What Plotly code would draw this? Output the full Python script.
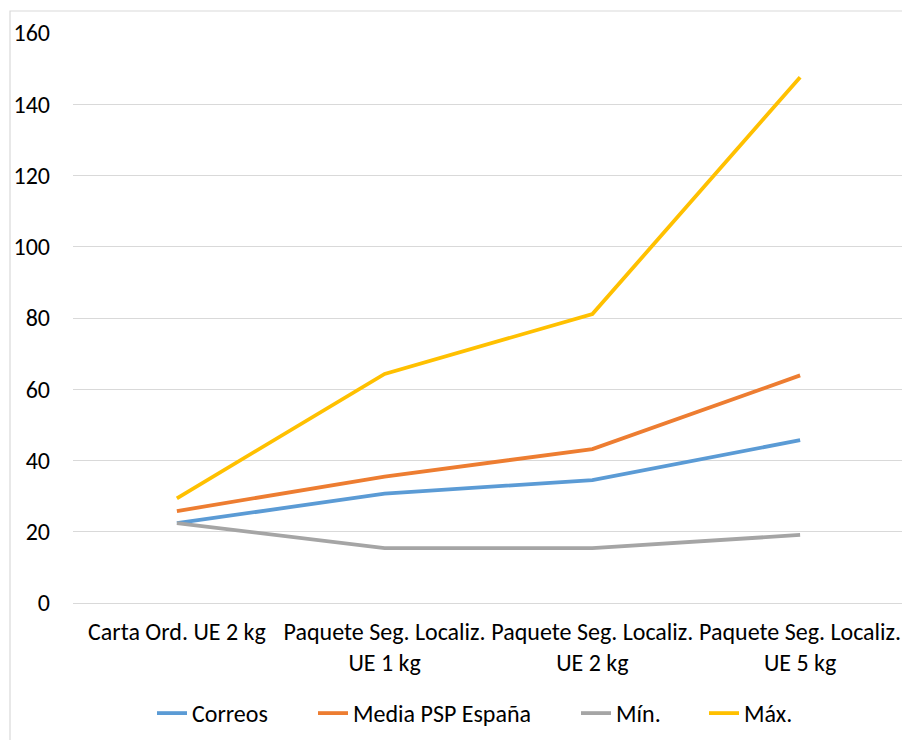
import plotly.graph_objects as go

categories = ["Carta Ord. UE 2 kg", "Paquete Seg. Localiz. UE 1 kg",
              "Paquete Seg. Localiz. UE 2 kg", "Paquete Seg. Localiz. UE 5 kg"]
tick_labels = ["Carta Ord. UE 2 kg", "Paquete Seg. Localiz.<br>UE 1 kg",
               "Paquete Seg. Localiz.<br>UE 2 kg", "Paquete Seg. Localiz.<br>UE 5 kg"]
correos = [22.4, 30.7, 34.5, 45.7]
media_psp = [25.8, 35.5, 43.2, 63.9]
minimo = [22.4, 15.4, 15.4, 19.1]
maximo = [29.4, 64.3, 81.1, 147.6]
series_names = ["Correos", "Media PSP España", "Mín.", "Máx."]
colors = ["#5B9BD5", "#ED7D31", "#A5A5A5", "#FFC000"]
y_ticks = [0, 20, 40, 60, 80, 100, 120, 140, 160]

FONT = "Carlito, Calibri, Lato, 'Noto Sans', sans-serif"
FS = 24

# page is rendered with an 8px body offset
OFF = 8
W, H = 910 - OFF, 740 - OFF
L, T = 73 - OFF, 33 - OFF
plot_right, plot_bottom = 904 - OFF, 603 - OFF
R, B = W - plot_right, H - plot_bottom
pw, ph = W - L - R, H - T - B

legend_px = [157, 318, 581, 709]  # left edge of each legend entry (image px)
legend_keys = ["legend", "legend2", "legend3", "legend4"]

fig = go.Figure()
for name, vals, col, lk in zip(series_names, [correos, media_psp, minimo, maximo],
                               colors, legend_keys):
    fig.add_trace(go.Scatter(x=categories, y=vals, mode="lines", name=name,
                             legend=lk, line=dict(color=col, width=3.8)))

legend_y = (plot_bottom - 683) / ph
legends = {}
for lk, px in zip(legend_keys, legend_px):
    legends[lk] = dict(orientation="h", x=(px - OFF - 5 - L) / pw, xanchor="left",
                       y=legend_y, yanchor="top",
                       font=dict(size=FS, color="#000000"),
                       itemwidth=30, bgcolor="rgba(0,0,0,0)", borderwidth=0)

fig.update_layout(
    width=W, height=H,
    margin=dict(l=L, r=R, t=T, b=B, pad=0, autoexpand=False),
    paper_bgcolor="white", plot_bgcolor="white",
    font=dict(family=FONT, size=FS, color="#000000"),
    showlegend=True,
    xaxis=dict(type="category", range=[-0.5, 3.5], tickmode="array",
               tickvals=categories, ticktext=tick_labels, showgrid=False,
               showline=False, zeroline=False, ticks="", ticklabelstandoff=12,
               tickfont=dict(size=FS), automargin=False),
    yaxis=dict(range=[0, 160], tickvals=y_ticks, showgrid=True, gridcolor="#D9D9D9",
               gridwidth=1, zeroline=True, zerolinecolor="#D9D9D9", zerolinewidth=1,
               showline=False, ticks="", ticklabelstandoff=22, tickfont=dict(size=FS),
               automargin=False),
    shapes=[dict(type="rect", xref="paper", yref="paper",
                 x0=(10 - OFF - L) / pw, x1=(W + 20 - L) / pw,
                 y0=-0.5, y1=(plot_bottom - (11 - OFF)) / ph,
                 line=dict(color="#D9D9D9", width=1.2), fillcolor="rgba(0,0,0,0)",
                 layer="below")],
    **legends,
)

fig.write_html("out.html")
